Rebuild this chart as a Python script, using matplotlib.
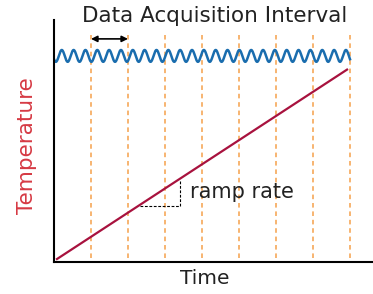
import numpy as np
import matplotlib
matplotlib.use('Agg')
import matplotlib.pyplot as plt

# time in units of one acquisition interval, temperature in arbitrary units
interval_times = [1, 2, 3, 4, 5, 6, 7, 8]
interval_top = 6.14
interval_bottom = 0.11

ramp_time = [0.08, 7.92]
ramp_temp = [0.08, 5.2]

wave_center = 5.57
wave_amp = 0.16
wave_cycles = 25
wave_end = 8.0

rate_time = [2.32, 3.41, 3.41]
rate_temp = [1.51, 1.51, 2.2]

arrow_from = 1.0
arrow_to = 2.0
arrow_temp = 6.03

W, H = 373, 294
fig = plt.figure(figsize=(W / 100, H / 100), dpi=100)
ax = fig.add_axes([54 / W, (H - 262) / H, 1 - 54 / W, (262 - 20) / H])
ax.set_xlim(0, (W - 54) / 37)
ax.set_ylim(0, (262 - 20) / 37)

# acquisition interval markers
for t in interval_times:
    ax.plot([t, t], [interval_bottom, interval_top], color='#f5a04a',
            linestyle=(0, (3, 2.5)), linewidth=1.1)

# oscillating signal
t = np.linspace(0, wave_end, 1500)
period = wave_end / wave_cycles
ax.plot(t, wave_center - wave_amp * np.cos(2 * np.pi * (t - 0.05) / period),
        color='#1a6dae', linewidth=1.8)

# temperature ramp
ax.plot(ramp_time, ramp_temp, color='#a8123e', linewidth=1.6)
ax.plot(rate_time, rate_temp, color='black', linestyle=(0, (2.5, 1.5)),
        linewidth=0.8)
ax.text(3.68, 1.88, 'ramp rate', fontsize=15, va='center', ha='left',
        color='#222222')

ax.annotate('', xy=(arrow_to, arrow_temp), xytext=(arrow_from, arrow_temp),
            arrowprops=dict(arrowstyle='<|-|>', color='black', lw=1.2,
                            mutation_scale=9, shrinkA=0, shrinkB=0))

for side in ['top', 'right']:
    ax.spines[side].set_visible(False)
for side in ['left', 'bottom']:
    ax.spines[side].set_linewidth(1.5)
ax.set_xticks([])
ax.set_yticks([])

fig.text(215 / W, 1 - 16 / H, 'Data Acquisition Interval', fontsize=15.5,
         ha='center', va='center', color='#222222')
fig.text(205 / W, 1 - 278 / H, 'Time', fontsize=14.5, ha='center', va='center',
         color='#222222')
fig.text(27 / W, 1 - 146 / H, 'Temperature', fontsize=15.5, ha='center',
         va='center', rotation=90, color='#d63a44')

fig.savefig('out.png', dpi=100)
